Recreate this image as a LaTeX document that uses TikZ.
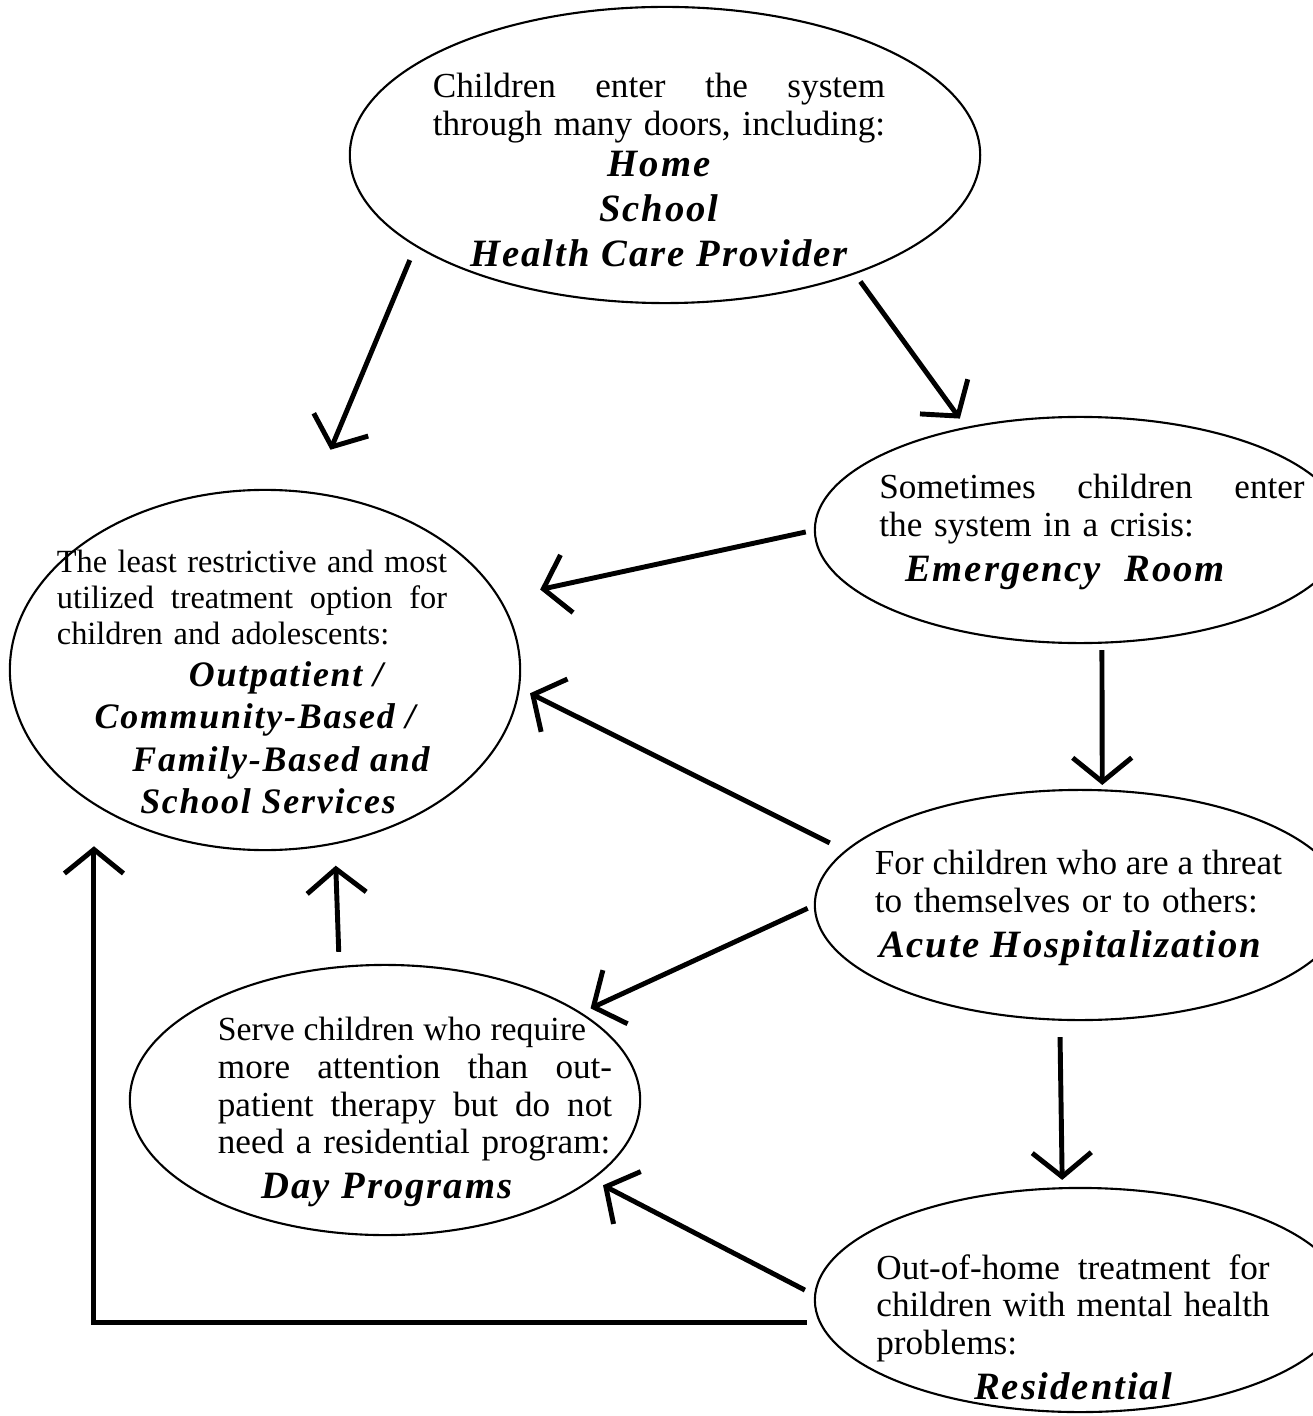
\documentclass[tikz,border=0pt]{standalone}
\usepackage{fontspec}
\setmainfont{Liberation Serif}
\newfontfamily\namefont[LetterSpace=5]{Liberation Serif}
\usetikzlibrary{shapes.geometric,arrows.meta}
\newcommand{\nm}[2][11]{{\namefont\fontsize{#1}{#1}\selectfont\bfseries\itshape #2}}
\newcommand{\jl}[2][\linewidth]{\makebox[#1][s]{\spaceskip=.25em plus 1fil\relax #2}}
\newcommand{\cl}[2][0mm]{\makebox[\linewidth][c]{\hspace*{#1}\hspace*{#1}#2}}

\begin{document}
\begin{tikzpicture}[x=0.01cm,y=-0.01cm]
  \tikzset{oval/.style = {ellipse, draw, line width=0.6pt, inner sep=0pt, outer sep=0pt},
    txt/.style = {align=left, inner sep=0pt, font=\fontsize{10}{10.7}\selectfont},
    conn/.style = {line width=1.4pt, -{Straight Barb[length=2.4mm,width=5.9mm]}}}
  \useasboundingbox (0,0) rectangle (1313,1416);

  % ovals
  \node[oval, minimum width=6.30cm, minimum height=2.96cm] (top) at (665,155) {};
  \node[oval, minimum width=5.30cm, minimum height=2.26cm] (sos) at (1080,530) {};
  \node[oval, minimum width=5.10cm, minimum height=3.60cm] (opt) at (265,670) {};
  \node[oval, minimum width=5.30cm, minimum height=2.30cm] (acu) at (1080,905) {};
  \node[oval, minimum width=5.10cm, minimum height=2.70cm] (day) at (385,1100) {};
  \node[oval, minimum width=5.30cm, minimum height=2.24cm] (res) at (1080,1300) {};

  % texts
  \node[txt, text width=4.52cm] (topT) at (659,170) {\jl{Children enter the system}\\
    through many doors, including:\\[1pt]
    \cl{\nm{Home}}\\[2pt]
    \cl{\nm{School}}\\[2pt]
    \cl{\nm{Health Care Provider}}};
  \node[txt, text width=4.25cm] (sosT) at (1092,532) {\jl{Sometimes children enter}\\
    the system in a crisis:\\[2pt]
    \cl[-2.7mm]{\nm{Emergency\hspace{0.6em}Room}}};
  \node[txt, text width=3.90cm, font=\fontsize{9.2}{10.2}\selectfont] (optT) at (252,682) {\jl{The least restrictive and most}\\
    \jl{utilized treatment option for}\\
    children and adolescents:\\[1.8pt]
    \cl[3.4mm]{\nm[10.2]{Outpatient /}}\\[1.8pt]
    \cl[0.3mm]{\nm[10.2]{Community-Based /}}\\[1.8pt]
    \cl[2.9mm]{\nm[10.2]{Family-Based and}}\\[1.8pt]
    \cl[1.6mm]{\nm[10.2]{School Services}}};
  \node[txt, text width=3.90cm] (acuT) at (1070,908) {\jl{For children who are a threat}\\
    to themselves or to others:\\[2pt]
    \cl{\nm{Acute Hospitalization}}};
  \node[txt, text width=3.94cm] (dayT) at (415,1112) {\jl[3.68cm]{\fontsize{9.6}{10.7}\selectfont Serve children who require}\\
    \jl{more attention than out-}\\
    \jl{patient therapy but do not}\\
    need a residential program:\\[2pt]
    \cl[-2.8mm]{\nm{Day Programs}}};
  \node[txt, text width=3.93cm] (resT) at (1073,1327) {\jl{Out-of-home treatment for}\\
    \jl{children with mental health}\\
    problems:\\[2pt]
    \cl{\nm{Residential}}};

  % arrows
  \draw[conn, shorten <=1.56mm, shorten >=4.69mm] (top.200.7) -- (opt.75.4);
  \draw[conn, shorten <=1.01mm, shorten >=1.14mm] (top.328.4) -- (sos.138.7);
  \draw[conn, shorten <=0.93mm, shorten >=4.2mm] (sos.180.2) -- (opt.17.5);
  \draw[conn, shorten <=0.74mm, shorten >=0.54mm] (sos.281.1) -- (acu.79.1);
  \draw[conn, shorten <=1.81mm, shorten >=1.24mm] (acu.167.7) -- (opt.356.8);
  \draw[conn, shorten <=0.79mm, shorten >=1.13mm] (acu.180.8) -- (day.24.7);
  \draw[conn, shorten <=1.53mm, shorten >=2.25mm] (day.109.5) -- (opt.292.9);
  \draw[conn, shorten <=1.73mm, shorten >=0.83mm] (acu.260.6) -- (res.99.65);
  \draw[conn, shorten <=1.15mm, shorten >=1.29mm] (res.179) -- (day.339.9);
  \draw[conn, shorten <=1.37mm, shorten >=4.26mm] (res.185.5) -| (opt.218.9);
\end{tikzpicture}
\end{document}
